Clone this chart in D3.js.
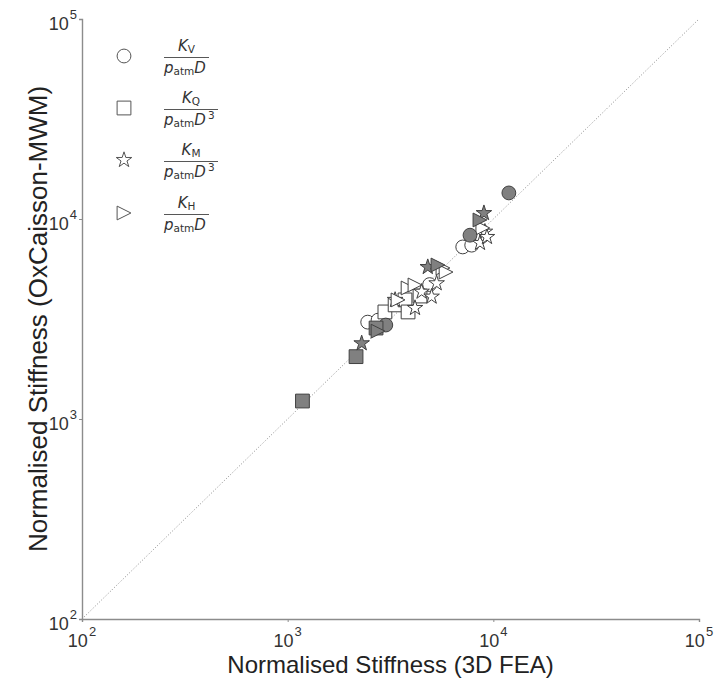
<!DOCTYPE html>
<html>
<head>
<meta charset="utf-8">
<script src="https://d3js.org/d3.v7.min.js"></script>
<style>
  body { margin: 0; background: #fff; }
  svg { display: block; }
</style>
</head>
<body>
<svg width="716" height="686"></svg>
<script>

    // values: [3D FEA, OxCaisson-MWM]
    var kvOpen = [[2450, 3050], [2750, 3120], [4900, 4700], [7100, 7250], [7850, 7400]];
    var kvFilled = [[3000, 2950], [7700, 8300], [11900, 13500]];
    var kqOpen = [[2970, 3430], [3330, 3720], [3720, 3940], [3850, 3430], [4400, 4120]];
    var kqFilled = [[1180, 1230], [2150, 2050], [2690, 2850]];
    var kmOpen = [[3330, 3940], [4160, 3590], [4480, 4330], [5010, 4090], [5300, 4770],
                  [8610, 7590], [9100, 8640], [9310, 8130]];
    var kmFilled = [[2290, 2390], [4800, 5750], [9000, 10700]];
    var khOpen = [[3440, 3940], [3850, 4520], [4160, 4680], [5690, 5690], [5890, 5430], [8890, 9020]];
    var khFilled = [[2750, 2750], [5380, 5890], [8610, 9890]];

    var tickValues = [1e2, 1e3, 1e4, 1e5];
    var tickPowers = ["2", "3", "4", "5"];

    var legendSub = ["V", "Q", "M", "H"];
    var legendPow = ["", "3", "3", ""];

    var svg = d3.select("svg");
    var pLeft = 82, pRight = 699, pTop = 19, pBottom = 619;

    var x = d3.scaleLog().domain([1e2, 1e5]).range([pLeft, pRight]),
        y = d3.scaleLog().domain([1e2, 1e5]).range([pBottom, pTop]);

    // matplotlib style ">" marker
    var triRight = {
        draw: function(ctx, size) {
            var r = Math.sqrt(size) / 2;
            ctx.moveTo(r, 0);
            ctx.lineTo(-r, -r);
            ctx.lineTo(-r, r);
            ctx.closePath();
        }
    };

    var shapes = [
        d3.symbol().type(d3.symbolCircle).size(150),
        d3.symbol().type(d3.symbolSquare).size(190),
        d3.symbol().type(d3.symbolStar).size(75),
        d3.symbol().type(triRight).size(190)
    ];

    var axisColor = "#8c8c8c", textColor = "#333";

    // 1:1 line
    svg.append("line")
        .attr("x1", x(1e2)).attr("y1", y(1e2))
        .attr("x2", x(1e5)).attr("y2", y(1e5))
        .attr("stroke", "#8a8a8a")
        .attr("stroke-width", 1)
        .attr("stroke-dasharray", "1,2");

    // axes
    var gx = svg.append("g")
        .attr("transform", "translate(0," + pBottom + ")")
        .call(d3.axisBottom(x).tickValues(tickValues).tickSize(3).tickFormat(""));
    var gy = svg.append("g")
        .attr("transform", "translate(" + pLeft + ",0)")
        .call(d3.axisLeft(y).tickValues(tickValues).tickSize(3).tickFormat(""));

    [gx, gy].forEach(function(g) {
        g.select(".domain").attr("stroke", axisColor).attr("stroke-width", 1.4);
        g.selectAll(".tick line").attr("stroke", axisColor);
    });

    var xt = svg.append("g").selectAll("text")
        .data(tickValues)
        .enter().append("text")
        .attr("x", function(d) { return x(d); })
        .attr("y", 647)
        .attr("text-anchor", "middle")
        .attr("font-family", "Liberation Sans, Arial, sans-serif")
        .attr("font-size", 18)
        .attr("fill", textColor);
    xt.append("tspan").text("10");
    xt.append("tspan").attr("dy", -11).attr("dx", 1).attr("font-size", 13)
        .text(function(d, i) { return tickPowers[i]; });

    var yt = svg.append("g").selectAll("text")
        .data(tickValues)
        .enter().append("text")
        .attr("x", pLeft - 5)
        .attr("y", function(d) { return y(d) + 11; })
        .attr("text-anchor", "end")
        .attr("font-family", "Liberation Sans, Arial, sans-serif")
        .attr("font-size", 18)
        .attr("fill", textColor);
    yt.append("tspan").text("10");
    yt.append("tspan").attr("dy", -11).attr("dx", 1).attr("font-size", 13)
        .text(function(d, i) { return tickPowers[i]; });

    // axis titles
    svg.append("text")
        .attr("x", (pLeft + pRight) / 2)
        .attr("y", 673)
        .attr("text-anchor", "middle")
        .attr("font-family", "Liberation Sans, Arial, sans-serif")
        .attr("font-size", 24)
        .attr("fill", "#222")
        .text("Normalised Stiffness (3D FEA)");

    svg.append("text")
        .attr("transform", "translate(47," + ((pTop + pBottom) / 2) + ") rotate(-90)")
        .attr("text-anchor", "middle")
        .attr("font-family", "Liberation Sans, Arial, sans-serif")
        .attr("font-size", 26)
        .attr("fill", "#222")
        .text("Normalised Stiffness (OxCaisson-MWM)");

    // markers
    var series = [
        {data: kvOpen, shape: 0, fill: "#fff"},
        {data: kqOpen, shape: 1, fill: "#fff"},
        {data: kmOpen, shape: 2, fill: "#fff"},
        {data: khOpen, shape: 3, fill: "#fff"},
        {data: kvFilled, shape: 0, fill: "#808080"},
        {data: kqFilled, shape: 1, fill: "#808080"},
        {data: kmFilled, shape: 2, fill: "#808080"},
        {data: khFilled, shape: 3, fill: "#808080"}
    ];

    series.forEach(function(s) {
        svg.append("g").selectAll("path")
            .data(s.data)
            .enter().append("path")
            .attr("transform", function(d) { return "translate(" + x(d[0]) + "," + y(d[1]) + ")"; })
            .attr("d", shapes[s.shape])
            .attr("fill", s.fill)
            .attr("stroke", "#404040")
            .attr("stroke-width", 1);
    });

    // legend
    var legY = [56, 108, 160, 213];
    var leg = svg.append("g").selectAll("g")
        .data(legendSub)
        .enter().append("g")
        .attr("transform", function(d, i) { return "translate(0," + legY[i] + ")"; });

    leg.append("path")
        .attr("transform", "translate(124,0)")
        .attr("d", function(d, i) { return shapes[i](); })
        .attr("fill", "#fff")
        .attr("stroke", "#555")
        .attr("stroke-width", 1);

    leg.append("line")
        .attr("x1", 164)
        .attr("x2", function(d, i) { return legendPow[i] ? 218 : 209; })
        .attr("y1", 1.5).attr("y2", 1.5)
        .attr("stroke", "#444")
        .attr("stroke-width", 0.9);

    var num = leg.append("text")
        .attr("x", function(d, i) { return legendPow[i] ? 191 : 186.5; })
        .attr("y", -5)
        .attr("text-anchor", "middle")
        .attr("font-family", "DejaVu Sans, sans-serif")
        .attr("font-size", 15)
        .attr("fill", textColor);
    num.append("tspan").attr("font-style", "italic").text("K");
    num.append("tspan").attr("font-size", 10.5).attr("dy", 2).text(function(d) { return d; });

    var den = leg.append("text")
        .attr("x", 164)
        .attr("y", 17)
        .attr("font-family", "DejaVu Sans, sans-serif")
        .attr("font-size", 15)
        .attr("fill", textColor);
    den.append("tspan").attr("font-style", "italic").text("p");
    den.append("tspan").attr("font-size", 10.5).attr("dy", 2).text("atm");
    den.append("tspan").attr("font-style", "italic").attr("dy", -2).text("D");
    den.append("tspan").attr("font-size", 10.5).attr("dy", -6).attr("dx", 2)
        .text(function(d, i) { return legendPow[i]; });

</script>
</body>
</html>
